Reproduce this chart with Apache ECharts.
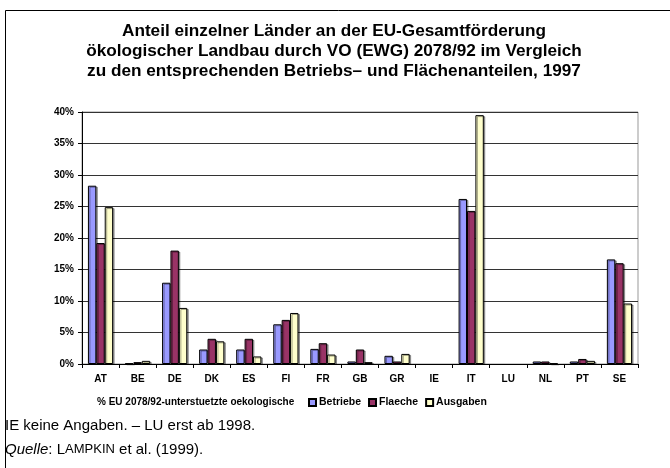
<!DOCTYPE html>
<html>
<head>
<meta charset="utf-8">
<script src="https://cdn.jsdelivr.net/npm/echarts@6/dist/echarts.min.js"></script>
<style>
html,body{margin:0;padding:0;background:#fff;}
#chart{width:670px;height:468px;}
</style>
</head>
<body>
<div id="chart"></div>
<script>
const categories = ['AT','BE','DE','DK','ES','FI','FR','GB','GR','IE','IT','LU','NL','PT','SE'];
const betriebe  = [28.3, 0.1, 12.9, 2.3, 2.3, 6.3, 2.4, 0.4, 1.3, null, 26.2, null, 0.4, 0.4, 16.6];
const flaeche   = [19.2, 0.3, 18.0, 4.0, 4.0, 7.0, 3.3, 2.3, 0.4, null, 24.3, null, 0.4, 0.8, 16.0];
const ausgaben  = [24.9, 0.5, 8.9, 3.6, 1.2, 8.1, 1.5, 0.3, 1.6, null, 39.5, null, 0.1, 0.5, 9.6];
const seriesNames = ['Betriebe','Flaeche','Ausgaben'];
const titleLines = [
  'Anteil einzelner Länder an der EU-Gesamtförderung',
  'ökologischer Landbau durch VO (EWG) 2078/92 im Vergleich',
  'zu den entsprechenden Betriebs– und Flächenanteilen, 1997'
];
const axisTitle = '% EU 2078/92-unterstuetzte oekologische';
const note1 = 'IE keine Angaben. – LU erst ab 1998.';

const FONT = '"Liberation Sans", Arial, sans-serif';
const colors = ['#9999FF','#993366','#FFFFCC'];

const chart = echarts.init(document.getElementById('chart'), null, {renderer:'canvas'});
const barStyle = (c) => ({
  color: c, borderColor: '#000', borderWidth: 1,
  shadowColor: 'rgba(0,0,0,0.35)', shadowOffsetX: 1.5, shadowOffsetY: 1, shadowBlur: 0
});
chart.setOption({
  animation: false,
  backgroundColor: '#fff',
  textStyle: {fontFamily: FONT},
  title: {
    text: titleLines.join('\n'),
    left: 334, top: 21, textAlign: 'center', padding: 0,
    textStyle: {fontFamily: FONT, fontSize: 17.2, fontWeight: 'bold', color: '#000', lineHeight: 20}
  },
  grid: {left: 82, top: 112, right: 32, bottom: 104, show: true, borderColor: '#999', borderWidth: 1, backgroundColor: 'transparent'},
  legend: {
    data: seriesNames,
    left: 308, top: 397, padding: 0,
    itemWidth: 7, itemHeight: 7, itemGap: 7,
    icon: 'rect',
    textStyle: {fontFamily: FONT, fontSize: 10.5, fontWeight: 'bold', color: '#000', padding: [0,0,0,-2]}
  },
  xAxis: {
    type: 'category', data: categories,
    axisLine: {lineStyle: {color: '#000', width: 1}},
    axisTick: {show: true, interval: 0, length: 4, lineStyle: {color: '#000'}},
    axisLabel: {interval: 0, margin: 10, fontFamily: FONT, fontSize: 10, fontWeight: 'bold', color: '#000'}
  },
  yAxis: {
    type: 'value', min: 0, max: 40, interval: 5,
    axisLine: {show: true, lineStyle: {color: '#000', width: 1}},
    axisTick: {show: true, length: 4, lineStyle: {color: '#000'}},
    axisLabel: {formatter: '{value}%', margin: 8, fontFamily: FONT, fontSize: 10, fontWeight: 'bold', color: '#000'},
    splitLine: {lineStyle: {color: '#333', width: 1}}
  },
  series: seriesNames.map((n, i) => ({
    name: n, type: 'bar',
    data: [betriebe, flaeche, ausgaben][i],
    barGap: '0%', barCategoryGap: '32%',
    itemStyle: barStyle(colors[i])
  })),
  graphic: [
    {type: 'rect', left: 3, top: 8, shape: {width: 700, height: 500}, style: {fill: 'none', stroke: '#000', lineWidth: 1}, silent: true},
    {type: 'text', left: 97, top: 397, style: {text: axisTitle, font: 'bold 10px ' + FONT, fill: '#000'}},
    {type: 'text', left: 5, top: 418, style: {text: note1, font: '15px ' + FONT, fill: '#000'}},
    {type: 'text', left: 5, top: 442, style: {
      text: '{i|Quelle}: L{sc|AMPKIN} et al. (1999).',
      font: '15px ' + FONT, fill: '#000',
      rich: {
        i: {fontStyle: 'italic', fontSize: 15, fontFamily: FONT, fill: '#000'},
        sc: {fontSize: 13, fontFamily: FONT, fill: '#000'}
      }
    }}
  ]
});
</script>
</body>
</html>
